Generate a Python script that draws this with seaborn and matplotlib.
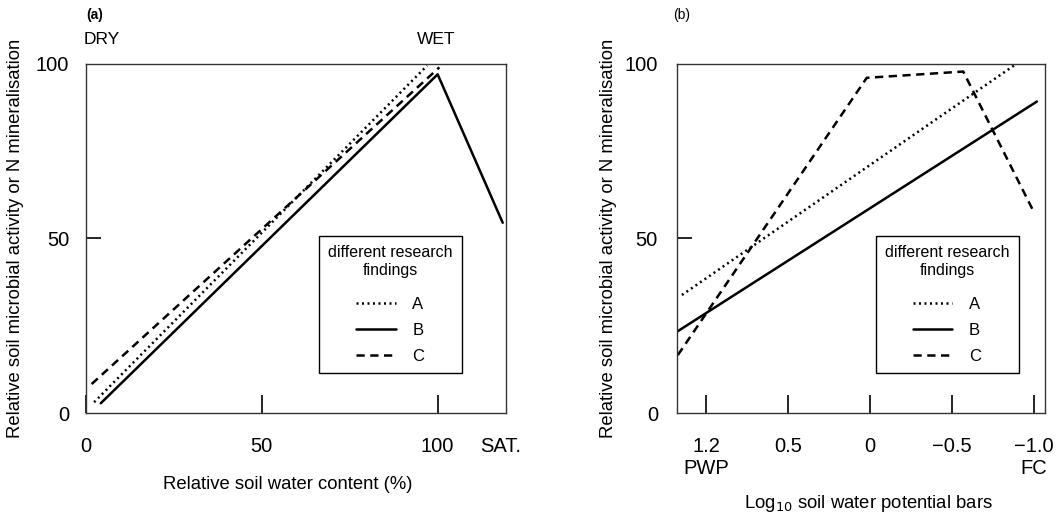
import numpy as np
import pandas as pd
import matplotlib
matplotlib.use("Agg")
import matplotlib.pyplot as plt
import seaborn as sns

# panel (a): relative soil water content (%) vs activity
wc_A = [2.3, 97.0]
act_A = [3.1, 99.5]
wc_B = [4.2, 100.0, 118.5]
act_B = [2.8, 97.0, 54.5]
wc_C = [1.6, 100.5]
act_C = [8.3, 99.0]

# panel (b): log10 water potential, ticks drawn at equal spacing
pot_ticks = ["1.2\nPWP", "0.5", "0", "\u22120.5", "\u22121.0\nFC"]
pos_A = [-0.30, 3.79]
val_A = [33.8, 100.0]
pos_B = [-0.36, 4.04]
val_B = [23.3, 89.2]
pos_C = [-0.35, 1.96, 3.14, 3.99]
val_C = [16.6, 96.0, 97.8, 58.2]

findings = ["A", "B", "C"]
styles = {"A": (0, (0.8, 1.4)), "B": "-", "C": (0, (3.3, 2.2))}

sns.set_theme(style="white")
plt.rcParams["font.family"] = ["Liberation Sans", "DejaVu Sans"]
plt.rcParams.update({"text.color": "black", "axes.labelcolor": "black",
                     "xtick.color": "black", "ytick.color": "black"})

fig = plt.figure(figsize=(10.62, 5.15), dpi=100)
ax1 = fig.add_axes([0.081, 0.198, 0.395, 0.678])
ax2 = fig.add_axes([0.6375, 0.198, 0.3465, 0.678])

left = {"A": (wc_A, act_A), "B": (wc_B, act_B), "C": (wc_C, act_C)}
right = {"A": (pos_A, val_A), "B": (pos_B, val_B), "C": (pos_C, val_C)}

for ax, series in [(ax1, left), (ax2, right)]:
    for f in findings:
        xs, ys = series[f]
        sns.lineplot(x=xs, y=ys, ax=ax, color="black", linestyle=styles[f],
                     lw=1.8, sort=False, legend=False)
    for s in ax.spines.values():
        s.set_color("#333333")
        s.set_linewidth(1.0)
    ax.set_ylim(0, 100)
    ax.set_yticks([0, 50, 100])
    ax.set_yticklabels(["0", "50", "100"])
    ax.tick_params(axis="x", direction="in", length=13, width=1.2,
                   color="black", labelcolor="black", labelsize=14.5, pad=17,
                   bottom=True)
    ax.tick_params(axis="y", direction="in", length=11, width=1.2,
                   color="black", labelcolor="black", labelsize=14.5, left=True)
    for t in ax.yaxis.get_major_ticks():
        if t.get_loc() != 50:
            t.tick1line.set_visible(False)
    ax.set_ylabel("Relative soil microbial activity or N mineralisation",
                  fontsize=13.3, color="black")
    handles = ax.get_lines()[:3]
    leg = ax.legend(handles, findings, title="different research\nfindings",
                    loc="upper left", fontsize=12, title_fontsize=11.5,
                    handlelength=2.35, handletextpad=1.0, labelspacing=0.66,
                    borderpad=0.55, borderaxespad=0, fancybox=False,
                    framealpha=1, edgecolor="black", labelcolor="black")
    leg.get_frame().set_linewidth(1.0)
    leg.get_title().set_multialignment("center")
    leg.get_title().set_color("black")
    leg._legend_box.sep = 14

# panel (a) axes
ax1.set_xlim(0, 119.3)
ax1.set_xticks([0, 50, 100, 117.8])
ax1.set_xticklabels(["0", "50", "100", "SAT."])
for t in ax1.xaxis.get_major_ticks():
    if t.get_loc() > 110:
        t.tick1line.set_visible(False)
ax1.tick_params(axis="y", pad=12)
ax1.yaxis.set_label_coords(-0.148, 0.5)
ax1.set_xlabel("Relative soil water content (%)", fontsize=13.3, color="black")
ax1.xaxis.set_label_coords(0.48, -0.18)
ax1.get_legend().set_bbox_to_anchor((0.555, 0.507))

# panel (b) axes
ax2.set_xlim(-0.36, 4.14)
ax2.set_xticks(range(len(pot_ticks)))
ax2.set_xticklabels(pot_ticks, linespacing=1.2)
ax2.tick_params(axis="y", pad=13.7)
ax2.yaxis.set_label_coords(-0.163, 0.5)
ax2.set_xlabel("Log$_{10}$ soil water potential bars", fontsize=13.3, color="black")
ax2.xaxis.set_label_coords(0.52, -0.23)
ax2.get_legend().set_bbox_to_anchor((0.54, 0.507))

fig.text(86 / 1062, 1 - 15 / 515, "(a)", fontsize=10, fontweight="bold", va="center")
fig.text(84 / 1062, 1 - 40 / 515, "DRY", fontsize=12.5, va="center")
fig.text(436 / 1062, 1 - 40 / 515, "WET", fontsize=12.5, va="center", ha="center")
fig.text(673 / 1062, 1 - 15 / 515, "(b)", fontsize=10, va="center")

fig.savefig("out.png", dpi=100)
